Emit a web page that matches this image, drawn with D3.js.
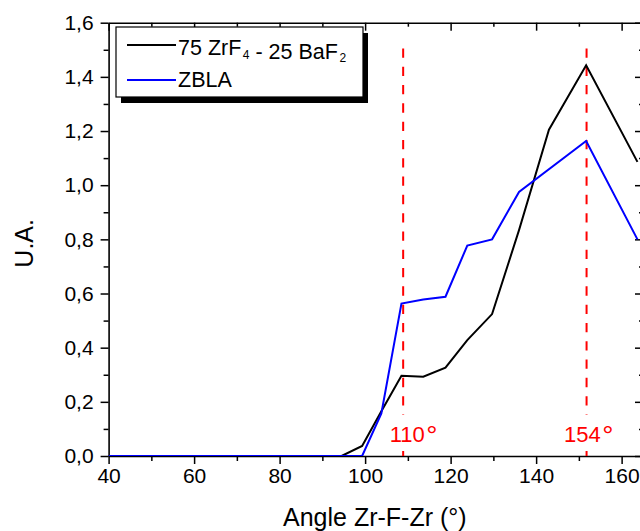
<!DOCTYPE html>
<html>
<head>
<meta charset="utf-8">
<script src="https://cdn.jsdelivr.net/npm/d3@7"></script>
<style>
  html, body { margin: 0; padding: 0; background: #fff; }
  svg { display: block; font-family: "Liberation Sans", Arial, sans-serif; }
</style>
</head>
<body>
<svg id="chart" width="640" height="531"></svg>
<script>
// ---- data ----
const anglesBlack = [40, 94.5, 99.3, 103.8, 108.5, 113.6, 118.8, 123.9, 129.7, 136, 143, 151.7, 163.7];
const valuesBlack = [0, 0, 0.037, 0.165, 0.296, 0.293, 0.326, 0.428, 0.524, 0.834, 1.205, 1.443, 1.086];
const anglesBlue  = [40, 99.3, 103.8, 108.5, 113.6, 118.8, 123.9, 129.7, 136, 151.7, 163.7];
const valuesBlue  = [0, 0, 0.157, 0.563, 0.578, 0.588, 0.777, 0.80, 0.975, 1.163, 0.80];
const seriesNames = ["75 ZrF|4| - 25 BaF|2|", "ZBLA"];
const xTicks = [40, 60, 80, 100, 120, 140, 160];
const xMinorTicks = [50, 70, 90, 110, 130, 150];
const yTicks = [0, 0.2, 0.4, 0.6, 0.8, 1.0, 1.2, 1.4, 1.6];
const yMinorTicks = [0.1, 0.3, 0.5, 0.7, 0.9, 1.1, 1.3, 1.5];
const markerAngles = [108.9, 151.8];
const markerLabels = ["110", "154"];
const degreeSign = "°";
const xTitle = "Angle Zr-F-Zr (°)";
const yTitle = "U.A.";

// ---- layout ----
const svg = d3.select("#chart");
const L = 108.6, R = 643, T = 22.7, B = 456;
const x = d3.scaleLinear().domain([40, 165]).range([L, R]);
const y = d3.scaleLinear().domain([0, 1.6]).range([B, T]);
const fmtY = d => d3.format(".1f")(d).replace(".", ",");

svg.append("defs").append("clipPath").attr("id", "clip")
  .append("rect").attr("x", L).attr("y", T).attr("width", R - L).attr("height", B - T);

function styleAxis(g, showDomain) {
  g.selectAll("line").attr("stroke", "#000").attr("stroke-width", 1.5);
  g.select(".domain").attr("stroke", showDomain ? "#000" : "none").attr("stroke-width", 1.6);
  g.selectAll("text").attr("fill", "#000").style("font-size", "21px");
}

// bottom
svg.append("g").attr("transform", `translate(0,${B})`)
  .call(d3.axisBottom(x).tickValues(xTicks).tickSize(8).tickPadding(4).tickFormat(d3.format("d")).tickSizeOuter(0))
  .call(g => styleAxis(g, true));
svg.append("g").attr("transform", `translate(0,${B})`)
  .call(d3.axisBottom(x).tickValues(xMinorTicks).tickSize(5).tickFormat("").tickSizeOuter(0))
  .call(g => styleAxis(g, false));
// top
svg.append("g").attr("transform", `translate(0,${T})`)
  .call(d3.axisTop(x).tickValues(xTicks).tickSize(-8).tickFormat("").tickSizeOuter(0))
  .call(g => styleAxis(g, true));
svg.append("g").attr("transform", `translate(0,${T})`)
  .call(d3.axisTop(x).tickValues(xMinorTicks).tickSize(-4).tickFormat("").tickSizeOuter(0))
  .call(g => styleAxis(g, false));
// left
svg.append("g").attr("transform", `translate(${L},0)`)
  .call(d3.axisLeft(y).tickValues(yTicks).tickSize(8).tickPadding(7).tickFormat(fmtY).tickSizeOuter(0))
  .call(g => styleAxis(g, true));
svg.append("g").attr("transform", `translate(${L},0)`)
  .call(d3.axisLeft(y).tickValues(yMinorTicks).tickSize(5).tickFormat("").tickSizeOuter(0))
  .call(g => styleAxis(g, false));
// right
svg.append("g").attr("transform", `translate(${R},0)`)
  .call(d3.axisRight(y).tickValues(yTicks).tickSize(-8).tickFormat("").tickSizeOuter(0))
  .call(g => styleAxis(g, true));
svg.append("g").attr("transform", `translate(${R},0)`)
  .call(d3.axisRight(y).tickValues(yMinorTicks).tickSize(-4).tickFormat("").tickSizeOuter(0))
  .call(g => styleAxis(g, false));

// ---- marker lines ----
const mk = svg.append("g");
markerAngles.forEach((a, i) => {
  mk.append("line")
    .attr("x1", x(a)).attr("x2", x(a))
    .attr("y1", y(1.505)).attr("y2", y(0))
    .attr("stroke", "#ff0000").attr("stroke-width", 2)
    .attr("stroke-dasharray", "9.3,9");
});

// ---- data lines ----
const line = d3.line().x(d => x(d[0])).y(d => y(d[1]));
const plot = svg.append("g").attr("clip-path", "url(#clip)");
plot.append("path")
  .datum(anglesBlack.map((a, i) => [a, valuesBlack[i]]))
  .attr("d", line).attr("fill", "none").attr("stroke", "#000").attr("stroke-width", 2)
  .attr("stroke-linejoin", "miter");
plot.append("path")
  .datum(anglesBlue.map((a, i) => [a, valuesBlue[i]]))
  .attr("d", line).attr("fill", "none").attr("stroke", "#0000ff").attr("stroke-width", 2)
  .attr("stroke-linejoin", "miter");

// marker labels with white background
const labelOffsets = [-13.5, -22.5];
markerAngles.forEach((a, i) => {
  const g = svg.append("g");
  const t = g.append("text")
    .attr("x", x(a) + labelOffsets[i]).attr("y", 442)
    .attr("fill", "#ff0000").style("font-size", "22px");
  t.append("tspan").text(markerLabels[i]);
  t.append("tspan").attr("dx", 1.5).attr("dy", 3).style("font-size", "28px").text(degreeSign);
  const bb = t.node().getBBox();
  g.insert("rect", "text")
    .attr("x", bb.x - 1).attr("y", 415)
    .attr("width", bb.width + 2).attr("height", 449 - 415)
    .attr("fill", "#fff");
});

// ---- axis titles ----
svg.append("text")
  .attr("x", (L + R) / 2 - 1).attr("y", 526)
  .attr("text-anchor", "middle").style("font-size", "25px").attr("fill", "#000")
  .text(xTitle);
svg.append("text")
  .attr("transform", `translate(33,${(T + B) / 2 + 4}) rotate(-90)`)
  .attr("text-anchor", "middle").style("font-size", "25px").attr("fill", "#000")
  .text(yTitle);

// ---- legend ----
const lg = svg.append("g");
lg.append("rect").attr("x", 121).attr("y", 33).attr("width", 247).attr("height", 70).attr("fill", "#000");
lg.append("rect").attr("x", 116).attr("y", 27).attr("width", 247).attr("height", 70)
  .attr("fill", "#fff").attr("stroke", "#000").attr("stroke-width", 1.2);
const legendColors = ["#000", "#0000ff"];
const legendLineY = [45, 80];
const legendTextY = [55, 86.7];
seriesNames.forEach((name, i) => {
  lg.append("line").attr("x1", 127).attr("x2", 176)
    .attr("y1", legendLineY[i]).attr("y2", legendLineY[i])
    .attr("stroke", legendColors[i]).attr("stroke-width", 2);
  const t = lg.append("text").attr("x", 178).attr("y", legendTextY[i])
    .style("font-size", "21.5px").attr("fill", "#000");
  name.split("|").forEach((part, j) => {
    if (part === "") return;
    if (j % 2 === 1) {
      t.append("tspan").attr("dx", 1.5).attr("dy", 3.5).style("font-size", "12px").text(part);
      t.append("tspan").attr("dy", -3.5).text("");
    } else {
      t.append("tspan").text(part);
    }
  });
});
</script>
</body>
</html>
